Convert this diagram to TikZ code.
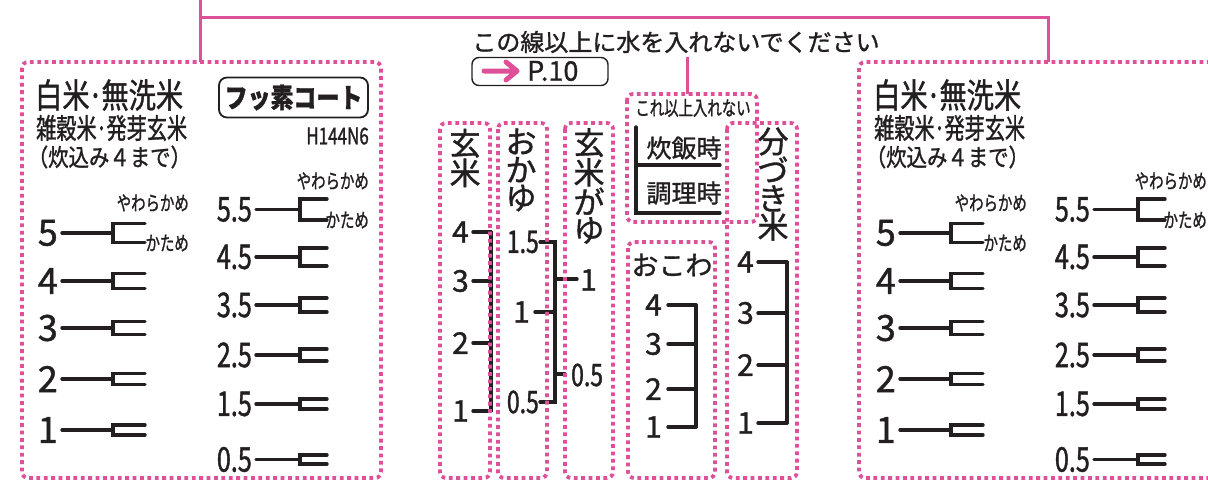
\documentclass[tikz,border=0pt]{standalone}
\usepackage{fontspec}
\setmainfont{Noto Sans CJK JP}[FakeBold=1.2]
\newfontfamily\titlejp[FakeStretch=0.8, FakeBold=1.2]{Noto Sans CJK JP}
\newfontfamily\notejp[FakeStretch=0.85, FakeBold=1.2]{Noto Sans CJK JP}
\newfontfamily\narrowjp[FakeStretch=0.72, FakeBold=1.2]{Noto Sans CJK JP}
\newfontfamily\numfont[FakeStretch=0.74, FakeBold=1.2]{Noto Sans CJK JP}
\definecolor{guidepink}{RGB}{222,80,152}
\definecolor{inkblack}{RGB}{35,31,32}

\tikzset{
  dotbox/.style={draw=guidepink, line width=3.8pt, dash pattern=on 3.8pt off 3.6pt, rounded corners=6pt},
  guideline/.style={draw=guidepink, line width=3pt},
  markline/.style={draw=inkblack, line width=3.4pt, line cap=round},
  bignum/.style={font=\fontsize{36}{36}\selectfont, anchor=east, inner sep=0pt, text=inkblack},
  bigdec/.style={font=\numfont\fontsize{34}{34}\selectfont, anchor=east, inner sep=0pt, text=inkblack},
  colnum/.style={font=\fontsize{30}{30}\selectfont, anchor=east, inner sep=0pt, text=inkblack},
  coldec/.style={font=\numfont\fontsize{31}{31}\selectfont, anchor=east, inner sep=0pt, text=inkblack},
  coltext/.style={font=\fontsize{31}{28}\selectfont, align=center, inner sep=0pt, text=inkblack},
  hardness/.style={font=\narrowjp\fontsize{20}{20}\selectfont, anchor=east, inner sep=0pt, text=inkblack},
}
\newcommand{\middot}{\makebox[0.35em]{·}}

% one white rice panel
\newcommand{\ricepanel}{%
  \node[anchor=west, inner sep=0pt, text=inkblack, font=\titlejp\fontsize{34}{34}\selectfont] (title) at (35,95) {白米\middot 無洗米};
  \node[anchor=west, inner sep=0pt, text=inkblack, font=\narrowjp\fontsize{28}{28}\selectfont] (sub) at (36,128) {雑穀米\middot 発芽玄米};
  \node[anchor=west, inner sep=0pt, text=inkblack, font=\notejp\fontsize{24}{24}\selectfont] (note) at (36,157) {\makebox[0.5em][r]{（}炊込み４まで\makebox[0.5em][l]{）}};
  \foreach \n/\y/\g in {5/233/19,4/281/15,3/328/13,2/379/11,1/430/10}{
    \node[bignum] (w\n) at (58,\y) {\n};
    \draw[markline] ([xshift=4pt]w\n.east) -- (113,\y);
    \draw[markline] (145,{\y-\g/2}) -- (113,{\y-\g/2}) -- (113,{\y+\g/2}) -- (145,{\y+\g/2});
  }
  \node[hardness] (soft) at (189,203) {やわらかめ};
  \node[hardness] (hard) at (189,243) {かため};
  \foreach \n/\y/\g [count=\i] in {5.5/209.5/21,4.5/257/18,3.5/305/14,2.5/355/12,1.5/404/10,0.5/459.5/9}{
    \node[bigdec] (d\i) at (252,\y) {\n};
    \draw[markline] ([xshift=4pt]d\i.east) -- (300,\y);
    \draw[markline] (327,{\y-\g/2}) -- (300,{\y-\g/2}) -- (300,{\y+\g/2}) -- (327,{\y+\g/2});
  }
  \node[hardness] (dsoft) at (369,181) {やわらかめ};
  \node[hardness] (dhard) at (369,220) {かため};
}

\begin{document}
\begin{tikzpicture}[x=1pt, y=-1pt]
\useasboundingbox (0,0) rectangle (1208,482);
\clip (0,0) rectangle (1208,482);

% water limit line
\draw[guideline] (200,0) -- (200,62);
\draw[guideline] (200,17) -- (1048,17) -- (1048,62);

\node[font=\fontsize{24}{24}\selectfont, text=inkblack, inner sep=0pt] (limit) at (676,42) {この線以上に水を入れないでください};
\node[draw=inkblack, line width=1.4pt, rounded corners=7pt, minimum width=136pt, minimum height=28pt, inner sep=0pt] (ref) at (540,71.5) {};
\draw[guidepink, line width=5pt, line cap=round, line join=round] (484,71) -- (516,71) (506,62) -- (517,71) -- (506,80);
\node[font=\fontsize{27}{27}\selectfont, text=inkblack, anchor=west, inner sep=0pt] (page) at (527,71) {P.10};
\coordinate (tip) at (687,94);
\draw[guideline] (687,57) -- (tip);

% left and right panels
\ricepanel
\node[draw=inkblack, line width=1.8pt, rounded corners=8pt, minimum width=149pt, minimum height=40pt, inner sep=0pt,
  font=\notejp\bfseries\fontsize{27}{27}\selectfont, text=inkblack] (fusso) at (293.5,97.5) {フッ素コート};
\node[font=\numfont\fontsize{23}{23}\selectfont, text=inkblack, anchor=east, inner sep=0pt] (model) at (369,136) {H144N6};
\begin{scope}[xshift=838pt, name prefix=R]
\ricepanel
\end{scope}

% cooking / other limit
\node[font=\narrowjp\fontsize{20}{20}\selectfont, text=inkblack, inner sep=0pt] (nomore) at (693,108) {これ以上入れない};
\draw[markline] (636,127) -- (636,213) -- (720,213);
\draw[markline] (636,165) -- (720,165);
\node[font=\fontsize{25}{25}\selectfont, text=inkblack, inner sep=0pt] (suihan) at (684,148) {炊飯時};
\node[font=\fontsize{25}{25}\selectfont, text=inkblack, inner sep=0pt] (chouri) at (684,193) {調理時};

% columns
\node[coltext] (genmai) at (465,158) {玄\\米};
\node[coltext] (okayu) at (521,170) {お\\か\\ゆ};
\node[coltext] (genmaigayu) at (589,186) {玄\\米\\が\\ゆ};
\node[coltext] (bunzuki) at (773,184) {分\\づ\\き\\米};
\node[font=\fontsize{27}{27}\selectfont, text=inkblack, inner sep=0pt] (okowa) at (672,265) {おこわ};

% genmai scale
\foreach \n/\y in {4/232,3/281,2/343,1/411}{
  \node[colnum] (g\n) at (469,\y) {\n};
  \draw[markline] (473,\y) -- (491,\y);
}
\draw[markline] (491,232) -- (491,411);

% okayu scale
\node[coldec] (k15) at (539,242) {1.5};
\node[colnum] (k1) at (530,312) {1};
\node[coldec] (k05) at (539,402) {0.5};
\draw[markline] (540,242) -- (555,242) -- (555,402) -- (540,402);
\draw[markline] (535,312) -- (555,312);
\draw[markline] (555,279) -- (577,279);
\draw[markline] (555,374) -- (565,374);
\node[colnum, anchor=west] (gk1) at (580,280) {1};
\node[coldec, anchor=west] (gk05) at (571,375) {0.5};

% okowa scale
\foreach \n/\y in {4/305,3/344,2/389,1/427}{
  \node[colnum] (o\n) at (662,\y) {\n};
  \draw[markline] (668,\y) -- (696,\y);
}
\draw[markline] (696,305) -- (696,427);

% bunzuki scale
\foreach \n/\y in {4/262,3/313,2/365,1/423}{
  \node[colnum] (b\n) at (754,\y) {\n};
  \draw[markline] (758,\y) -- (787,\y);
}
\draw[markline] (787,262) -- (787,423);

% dotted frames
\draw[dotbox] (22,62) rectangle (381,478);
\draw[dotbox] (859,62) rectangle (1240,478);
\draw[dotbox] (627,94) rectangle (757,222);
\draw[dotbox] (440,123) rectangle (490,478);
\draw[dotbox] (498,123) rectangle (547,478);
\draw[dotbox] (565,123) rectangle (613,478);
\draw[dotbox] (628,242) rectangle (715,478);
\draw[dotbox] (727,123) rectangle (797,478);
\end{tikzpicture}
\end{document}
